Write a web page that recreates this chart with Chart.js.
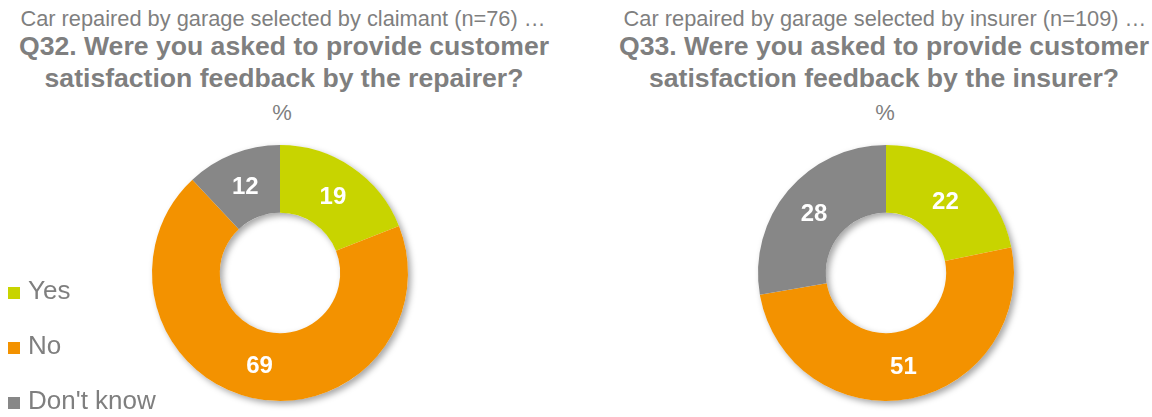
<!DOCTYPE html>
<html>
<head>
<meta charset="utf-8">
<script src="https://cdn.jsdelivr.net/npm/chart.js@4/dist/chart.umd.min.js"></script>
<style>
    html, body { margin: 0; padding: 0; background: #fff; }
    body { width: 1152px; height: 417px; position: relative; overflow: hidden; font-family: "Liberation Sans", Arial, sans-serif; color: #7f7f7f; }
    .linha { position: absolute; text-align: center; white-space: nowrap; }
    .sub { top: 7px; font-size: 21.8px; line-height: 24px; }
    .tit { top: 30px; font-size: 26.6px; font-weight: bold; line-height: 32px; }
    .pct { top: 101px; font-size: 22px; line-height: 24px; }
    .grafico { position: absolute; top: 0; height: 417px; }
    .leg-item { position: absolute; left: 8px; white-space: nowrap; font-size: 26px; line-height: 28px; }
    .leg-item span { display: inline-block; width: 12px; height: 12px; margin-right: 8px; vertical-align: 0; }
</style>
</head>
<body>

<div class="linha sub" style="left:0; width:566px;">Car repaired by garage selected by claimant (n=76) …</div>
<div class="linha tit" style="left:0; width:568px;">Q32. Were you asked to provide customer<br>satisfaction feedback by the repairer?</div>
<div class="linha pct" style="left:0; width:564px;">%</div>

<div class="linha sub" style="left:618px; width:534px;">Car repaired by garage selected by insurer (n=109) …</div>
<div class="linha tit" style="left:618px; width:532px;">Q33. Were you asked to provide customer<br>satisfaction feedback by the insurer?</div>
<div class="linha pct" style="left:618px; width:534px;">%</div>

<div class="grafico" style="left:0; width:560px;"><canvas id="chartQ32"></canvas></div>
<div class="grafico" style="left:620px; width:532px;"><canvas id="chartQ33"></canvas></div>
<div id="legenda"></div>

<script>
// --- DADOS ---
const categorias = ['Yes', 'No', "Don't know"];
const valoresQ32 = [19, 69, 12];
const valoresQ33 = [22, 51, 28];
const cores = ['#c8d400', '#f39200', '#878787'];

// sombra leve por baixo do anel (uma vez só, pra não sombrear uma fatia sobre a outra)
const sombraAnel = {
    id: 'sombraAnel',
    beforeDatasetsDraw(chart) {
        const arc = chart.getDatasetMeta(0).data[0];
        if (!arc) return;
        const ctx = chart.ctx;
        ctx.save();
        ctx.shadowColor = 'rgba(0,0,0,0.35)';
        ctx.shadowBlur = 6;
        ctx.shadowOffsetX = 3;
        ctx.shadowOffsetY = 3;
        ctx.beginPath();
        ctx.arc(arc.x, arc.y, arc.outerRadius, 0, Math.PI * 2);
        ctx.arc(arc.x, arc.y, arc.innerRadius, Math.PI * 2, 0, true);
        ctx.fillStyle = '#ffffff';
        ctx.fill('evenodd');
        ctx.restore();
    }
};

// rótulos brancos no meio de cada fatia
const rotulos = {
    id: 'rotulos',
    afterDatasetsDraw(chart) {
        const ctx = chart.ctx;
        const dados = chart.data.datasets[0].data;
        ctx.save();
        ctx.fillStyle = '#ffffff';
        ctx.font = 'bold 24px "Liberation Sans", Arial, sans-serif';
        ctx.textAlign = 'center';
        ctx.textBaseline = 'middle';
        chart.getDatasetMeta(0).data.forEach((arc, i) => {
            const p = arc.tooltipPosition();
            ctx.fillText(dados[i], p.x, p.y + 2);
        });
        ctx.restore();
    }
};

function criarRosca(id, valores) {
    return new Chart(document.getElementById(id).getContext('2d'), {
        type: 'doughnut',
        data: {
            labels: categorias,
            datasets: [{ data: valores, backgroundColor: cores, borderWidth: 0 }]
        },
        options: {
            responsive: true,
            maintainAspectRatio: false,
            animation: false,
            cutout: '47%',
            layout: { padding: { top: 145, bottom: 16 } },
            plugins: { legend: { display: false }, tooltip: { enabled: false } }
        },
        plugins: [sombraAnel, rotulos]
    });
}

criarRosca('chartQ32', valoresQ32);
criarRosca('chartQ33', valoresQ33);

// legenda HTML à esquerda, embaixo
const legenda = document.getElementById('legenda');
const posY = [276, 331, 386];
categorias.forEach((c, i) => {
    const item = document.createElement('div');
    item.className = 'leg-item';
    item.style.top = posY[i] + 'px';
    item.innerHTML = '<span style="background:' + cores[i] + '"></span>' + c;
    legenda.appendChild(item);
});
</script>
</body>
</html>
